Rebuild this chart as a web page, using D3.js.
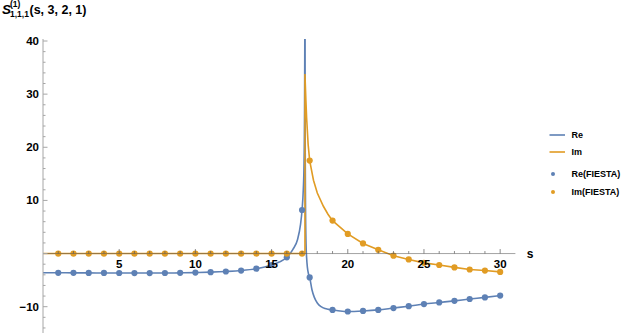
<!DOCTYPE html>
<html>
<head>
<meta charset="utf-8">
<script src="https://cdn.jsdelivr.net/npm/d3@7"></script>
<style>
  html, body { margin: 0; padding: 0; background: #fff; }
  svg { display: block; font-family: "Liberation Sans", Arial, sans-serif; }
</style>
</head>
<body>
<svg id="chart" width="623" height="333"></svg>
<script>
// ---- Data ----
// FIESTA sample points
const sPts = [1,2,3,4,5,6,7,8,9,10,11,12,13,14,15,16,17,17.5,19,20,21,22,23,24,25,26,27,28,29,30];
const rePts = [-3.62,-3.63,-3.64,-3.65,-3.66,-3.67,-3.67,-3.66,-3.63,-3.58,-3.5,-3.38,-3.2,-2.85,-2.15,-0.7,8.2,
               -4.5,-10.6,-10.9,-10.8,-10.6,-10.25,-9.9,-9.5,-9.2,-8.9,-8.55,-8.25,-7.9];
const imPts = [0,0,0,0,0,0,0,0,0,0,0,0,0,0,0,0,0,
               17.5,6.2,3.7,1.9,0.7,-0.4,-1.1,-1.75,-2.15,-2.6,-3.0,-3.2,-3.45];

// Analytic curves; null marks the break at threshold
const reLineS = [0,1,2,3,4,5,6,7,8,9,10,11,12,13,14,15,15.5,16,16.4,16.7,16.9,17,17.08,17.13,17.16,17.18,17.185,
                 17.186,
                 17.195,17.2,17.21,17.23,17.26,17.3,17.35,17.42,17.5,17.65,17.8,18,18.25,18.5,18.75,19,19.5,20,21,22,23,24,25,26,27,28,29,30];
const reLineV = [-3.61,-3.62,-3.63,-3.64,-3.65,-3.66,-3.67,-3.67,-3.66,-3.63,-3.58,-3.5,-3.38,-3.2,-2.85,-2.15,-1.6,-0.7,0.8,2.6,5.5,8.2,12,17,25,40,60,
                 null,
                 60,35,18,8,2,-0.8,-2.6,-3.8,-4.5,-6.8,-8.2,-9.3,-10.0,-10.35,-10.5,-10.6,-10.8,-10.9,-10.8,-10.6,-10.25,-9.9,-9.5,-9.2,-8.9,-8.55,-8.25,-7.9];
const imLineS = [0,17.19,17.19,17.25,17.3,17.4,17.5,17.75,18,18.4,18.7,19,20,21,22,23,24,25,26,27,28,29,30];
const imLineV = [0,0,33.8,29,25.5,20.5,17.5,13.8,11.4,8.9,7.4,6.2,3.7,1.9,0.7,-0.4,-1.1,-1.75,-2.15,-2.6,-3.0,-3.2,-3.45];

const xMajorTicks = [5,10,15,20,25,30];
const yMajorTicks = [-10,10,20,30,40];
const seriesNames = ["Re","Im","Re(FIESTA)","Im(FIESTA)"];

// ---- Layout ----
const blue = "#5E81B5", orange = "#E19C24", axisCol = "#a6a6a6";
const svg = d3.select("#chart");
const x = d3.scaleLinear().domain([0, 31]).range([43, 515.4]);
const y = d3.scaleLinear().domain([-10, 40]).range([306.7, 41]);
const yTop = 39, yBot = 333;

svg.append("defs").append("clipPath").attr("id","clip")
  .append("rect").attr("x", 43).attr("y", yTop).attr("width", 480).attr("height", yBot - yTop);

const plot = svg.append("g").attr("clip-path","url(#clip)");

const reData = reLineS.map((s,i)=>({s, v: reLineV[i]}));
const imData = imLineS.map((s,i)=>({s, v: imLineV[i]}));
const line = d3.line().defined(d=>d.v!==null).x(d=>x(d.s)).y(d=>y(d.v)).curve(d3.curveMonotoneX);
const lineLin = d3.line().x(d=>x(d.s)).y(d=>y(d.v));

plot.append("path").datum(reData).attr("d", line)
  .attr("fill","none").attr("stroke", blue).attr("stroke-width",1.6);
plot.append("path").datum(imData).attr("d", lineLin.curve(d3.curveLinear))
  .attr("fill","none").attr("stroke", orange).attr("stroke-width",1.6);

// FIESTA points
plot.selectAll("circle.re").data(sPts.map((s,i)=>({s, v: rePts[i]}))).join("circle")
  .attr("class","re").attr("cx", d=>x(d.s)).attr("cy", d=>y(d.v)).attr("r", 3.1).attr("fill", blue);
plot.selectAll("circle.im").data(sPts.map((s,i)=>({s, v: imPts[i]}))).join("circle")
  .attr("class","im").attr("cx", d=>x(d.s)).attr("cy", d=>y(d.v)).attr("r", 3.1).attr("fill", orange);

// ---- Axes (drawn on top) ----
const ax = svg.append("g");
const y0 = y(0);
// x axis
ax.append("line").attr("x1", 43).attr("x2", x(31)).attr("y1", y0).attr("y2", y0)
  .attr("stroke", "rgba(90,90,90,0.55)").attr("stroke-width", 1);
d3.range(1, 31).forEach(s => {
  const major = xMajorTicks.includes(s);
  ax.append("line").attr("x1", x(s)).attr("x2", x(s)).attr("y1", y0).attr("y2", y0 - (major ? 4.5 : 2.5))
    .attr("stroke", "rgba(90,90,90,0.7)").attr("stroke-width", 1);
});
ax.selectAll("text.xt").data(xMajorTicks).join("text").attr("class","xt")
  .attr("x", d=>x(d)).attr("y", y0 + 14.5).attr("text-anchor","middle")
  .attr("font-size", 11.5).attr("font-weight","bold").attr("fill","#000").text(d=>d);
ax.append("text").attr("x", 530).attr("y", y0 + 4.5).attr("text-anchor","middle")
  .attr("font-size", 12).attr("font-weight","bold").attr("fill","#000").text("s");

// y axis
ax.append("line").attr("x1", 43).attr("x2", 43).attr("y1", yTop).attr("y2", yBot)
  .attr("stroke", axisCol).attr("stroke-width", 1);
d3.range(-14, 41, 2).forEach(v => {
  const major = v % 10 === 0;
  ax.append("line").attr("x1", 43).attr("x2", 43 + (major ? 4.5 : 2.5)).attr("y1", y(v)).attr("y2", y(v))
    .attr("stroke", axisCol).attr("stroke-width", 1);
});
ax.selectAll("text.yt").data(yMajorTicks).join("text").attr("class","yt")
  .attr("x", 39).attr("y", d=>y(d) + 4).attr("text-anchor","end")
  .attr("font-size", 11.5).attr("font-weight","bold").attr("fill","#000")
  .text(d=> d < 0 ? "\u2212" + Math.abs(d) : d);

// ---- Title ----
const t = svg.append("text").attr("x", 2).attr("y", 13.5).attr("font-weight","bold").attr("fill","#000");
t.append("tspan").attr("font-size", 13.5).attr("font-style","italic").text("S");
svg.append("text").attr("x", 10).attr("y", 7).attr("font-size", 8.5).attr("font-weight","bold").attr("fill","#000").text("(1)");
svg.append("text").attr("x", 10).attr("y", 17).attr("font-size", 8.5).attr("font-weight","bold").attr("fill","#000").text("1,1,1");
svg.append("text").attr("x", 29.5).attr("y", 13.5).attr("font-size", 12.5).attr("font-weight","bold").attr("fill","#000").text("(s, 3, 2, 1)");

// ---- Legend ----
const lg = svg.append("g").attr("font-size", 9).attr("font-weight","bold").attr("fill","#000");
const lgY = [135, 152, 174, 192];
const lgCol = [blue, orange, blue, orange];
seriesNames.forEach((name, i) => {
  if (i < 2) {
    lg.append("line").attr("x1", 549.5).attr("x2", 565).attr("y1", lgY[i]).attr("y2", lgY[i])
      .attr("stroke", lgCol[i]).attr("stroke-width", 1.6);
  } else {
    lg.append("circle").attr("cx", 553).attr("cy", lgY[i]).attr("r", 2).attr("fill", lgCol[i]);
  }
  lg.append("text").attr("x", 571.5).attr("y", lgY[i] + 3.4).text(name);
});
</script>
</body>
</html>
